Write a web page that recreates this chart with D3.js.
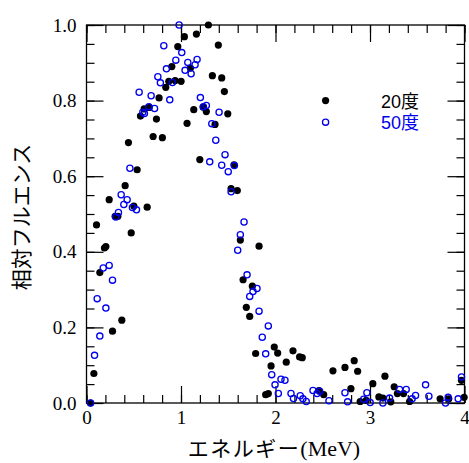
<!DOCTYPE html>
<html>
<head>
<meta charset="utf-8">
<script src="https://cdn.jsdelivr.net/npm/d3@7"></script>
<style>
  body { margin: 0; background: #fff; }
  .axis path, .axis line { stroke: #000; }
</style>
</head>
<body>
<div id="chart"></div>
<script>

// 20度 (filled black) : energy [MeV], relative fluence
var deg20X = [0.043, 0.078, 0.106, 0.141, 0.19, 0.205, 0.24, 0.275, 0.303, 0.332, 0.374, 0.409, 0.444, 0.473,
  0.501, 0.536, 0.571, 0.61, 0.642, 0.663, 0.705, 0.74, 0.768, 0.803, 0.839, 0.871, 0.903, 0.938, 0.966,
  1.001, 1.036, 1.064, 1.10, 1.135, 1.163, 1.199, 1.234, 1.268, 1.29, 1.332, 1.36, 1.395, 1.431, 1.459,
  1.495, 1.53, 1.561, 1.596, 1.628, 1.657, 1.691, 1.727, 1.755, 1.79, 1.826, 1.896, 1.924, 1.953, 1.987,
  2.023, 2.114, 2.185, 2.255, 2.283, 2.46, 2.51, 2.608, 2.735, 2.798, 2.833, 2.869, 2.896, 2.96, 3.03,
  3.094, 3.136, 3.158, 3.22, 3.256, 3.29, 3.355, 3.419, 3.742, 3.834, 3.968, 3.996];
var deg20Y = [0.0, 0.078, 0.471, 0.345, 0.41, 0.414, 0.538, 0.19, 0.494, 0.494, 0.219, 0.575, 0.689, 0.45,
  0.521, 0.617, 0.759, 0.778, 0.518, 0.782, 0.705, 0.751, 0.807, 0.702, 0.835, 0.851, 0.89, 0.853, 0.943,
  0.851, 0.969, 0.74, 0.886, 0.776, 0.976, 0.644, 0.783, 0.771, 1.0, 0.866, 0.737, 0.947, 0.86, 0.824,
  0.765, 0.567, 0.63, 0.562, 0.431, 0.326, 0.253, 0.229, 0.309, 0.131, 0.415, 0.022, 0.025, 0.098, 0.148,
  0.132, 0.108, 0.138, 0.122, 0.12, 0.033, 0.022, 0.085, 0.094, 0.038, 0.112, 0.084, 0.004, 0.007, 0.051,
  0.016, 0.013, 0.071, 0.003, 0.043, 0.025, 0.025, 0.004, 0.011, 0.011, 0.06, 0.015];

// 50度 (open blue)
var deg50X = [0.043, 0.085, 0.113, 0.141, 0.177, 0.205, 0.24, 0.275, 0.31, 0.338, 0.367, 0.395, 0.43, 0.459,
  0.486, 0.529, 0.557, 0.596, 0.613, 0.66, 0.684, 0.72, 0.755, 0.782, 0.818, 0.846, 0.881, 0.909, 0.945,
  0.98, 1.008, 1.043, 1.072, 1.107, 1.149, 1.17, 1.205, 1.237, 1.268, 1.304, 1.326, 1.368, 1.403, 1.431,
  1.466, 1.50, 1.53, 1.565, 1.60, 1.628, 1.667, 1.699, 1.727, 1.762, 1.804, 1.826, 1.86, 1.896, 1.924,
  1.96, 1.995, 2.03, 2.058, 2.1, 2.164, 2.19, 2.262, 2.29, 2.325, 2.397, 2.44, 2.467, 2.566, 2.735, 2.763,
  2.933, 2.967, 3.002, 3.136, 3.207, 3.313, 3.383, 3.446, 3.482, 3.588, 3.623, 3.799, 3.827, 3.933, 3.968];
var deg50Y = [0.0, 0.126, 0.276, 0.177, 0.357, 0.251, 0.364, 0.325, 0.492, 0.504, 0.551, 0.525, 0.538, 0.621,
  0.517, 0.511, 0.822, 0.769, 0.766, 0.784, 0.813, 0.779, 0.863, 0.847, 0.945, 0.884, 0.802, 0.848, 0.907,
  1.0, 0.927, 0.88, 0.901, 0.871, 0.895, 0.909, 0.808, 0.784, 0.787, 0.638, 0.739, 0.695, 0.769, 0.629,
  0.657, 0.612, 0.559, 0.628, 0.404, 0.445, 0.479, 0.339, 0.282, 0.295, 0.303, 0.243, 0.174, 0.13, 0.204,
  0.075, 0.048, 0.025, 0.063, 0.06, 0.025, 0.012, 0.019, 0.011, 0.004, 0.033, 0.025, 0.031, 0.006, 0.027, 0.003,
  0.01, 0.027, 0.001, 0.0, 0.013, 0.036, 0.036, 0.011, 0.02, 0.048, 0.018, 0.0, 0.015, 0.011, 0.069];

var legendLabels = ["20度", "50度"];
var legendX = [2.53, 2.53];
var legendY = [0.80, 0.743];

var xMajor = [0, 1, 2, 3, 4];
var xMinor = d3.range(0, 4.001, 0.2);
var yMajor = [0, 0.2, 0.4, 0.6, 0.8, 1.0];
var yMinor = d3.range(0, 1.001, 0.05);

var xTitle = "エネルギー";
var xUnit = "(MeV)";
var yTitle = "相対フルエンス";

var W = 469, H = 463;
var plot = {'l': 86.5, 'r': 464.5, 't': 25, 'b': 403};

var svg = d3.select("#chart").append("svg")
            .attr("width", W)
            .attr("height", H);

var XScale = d3.scaleLinear().domain([0, 4]).range([plot.l, plot.r]);
var YScale = d3.scaleLinear().domain([0, 1]).range([plot.b, plot.t]);

var plotH = plot.b - plot.t, plotW = plot.r - plot.l;

// all four sides get ticks pointing inward
function addAxis(axis, tx, ty, cls) {
  svg.append("g")
     .attr("class", "axis " + cls)
     .attr("transform", "translate(" + tx + "," + ty + ")")
     .call(axis)
     .call(function(g) { g.select(".domain").remove(); });
}

addAxis(d3.axisBottom(XScale).tickValues(xMinor).tickSize(-8).tickFormat(""), 0, plot.b, "xm");
addAxis(d3.axisTop(XScale).tickValues(xMinor).tickSize(-8).tickFormat(""), 0, plot.t, "xm");
addAxis(d3.axisLeft(YScale).tickValues(yMinor).tickSize(-8).tickFormat(""), plot.l, 0, "ym");
addAxis(d3.axisRight(YScale).tickValues(yMinor).tickSize(-8).tickFormat(""), plot.r, 0, "ym");

addAxis(d3.axisBottom(XScale).tickValues(xMajor).tickSize(-17).tickPadding(8)
          .tickFormat(d3.format("d")), 0, plot.b, "xM");
addAxis(d3.axisTop(XScale).tickValues(xMajor).tickSize(-17).tickFormat(""), 0, plot.t, "xM");
addAxis(d3.axisLeft(YScale).tickValues(yMajor).tickSize(-17).tickPadding(10)
          .tickFormat(d3.format(".1f")), plot.l, 0, "yM");
addAxis(d3.axisRight(YScale).tickValues(yMajor).tickSize(-17).tickFormat(""), plot.r, 0, "yM");

svg.selectAll(".axis line").attr("stroke-width", 1.2);
svg.selectAll(".axis")
   .attr("font-family", "Liberation Serif")
   .attr("font-size", 19);
svg.selectAll(".axis text")
   .attr("fill", "#000")
   .attr("font-family", "Liberation Serif");

// frame
svg.append("rect")
   .attr("x", plot.l).attr("y", plot.t)
   .attr("width", plotW).attr("height", plotH)
   .attr("fill", "none")
   .attr("stroke", "#000")
   .attr("stroke-width", 1.3);

var pts20 = deg20X.map(function(x, i) { return {x: x, y: deg20Y[i]}; });
var pts50 = deg50X.map(function(x, i) { return {x: x, y: deg50Y[i]}; });

svg.selectAll(".dot20")
   .data(pts20)
   .enter().append("circle")
   .attr("class", "dot20")
   .attr("cx", function(d) { return XScale(d.x); })
   .attr("cy", function(d) { return YScale(d.y); })
   .attr("r", 3.6)
   .attr("fill", "#000");

svg.selectAll(".dot50")
   .data(pts50)
   .enter().append("circle")
   .attr("class", "dot50")
   .attr("cx", function(d) { return XScale(d.x); })
   .attr("cy", function(d) { return YScale(d.y); })
   .attr("r", 3.1)
   .attr("fill", "none")
   .attr("stroke", "#0000ee")
   .attr("stroke-width", 1.3);

// legend
var legendColors = ["#000", "#0000ee"];
legendLabels.forEach(function(lab, i) {
  var c = svg.append("circle")
             .attr("cx", XScale(legendX[i]))
             .attr("cy", YScale(legendY[i]));
  if (i == 0) c.attr("r", 3.6).attr("fill", "#000");
  else c.attr("r", 3.1).attr("fill", "none").attr("stroke", "#0000ee").attr("stroke-width", 1.3);

  svg.append("text")
     .attr("x", 381)
     .attr("y", YScale(legendY[i]) + 7)
     .attr("fill", legendColors[i])
     .attr("font-family", "Liberation Sans, Arial, Noto Sans CJK JP, sans-serif")
     .attr("font-size", 18)
     .text(lab);
});

// axis titles
var xt = svg.append("text")
   .attr("x", 274)
   .attr("y", 456)
   .attr("text-anchor", "middle")
   .attr("fill", "#000");
xt.append("tspan")
  .attr("font-family", "Noto Sans CJK JP, sans-serif")
  .attr("font-size", 21)
  .attr("letter-spacing", "1.5px")
  .text(xTitle);
xt.append("tspan")
  .attr("font-family", "Liberation Serif")
  .attr("font-size", 22)
  .text(xUnit);

svg.append("text")
   .attr("transform", "translate(29,217) rotate(-90)")
   .attr("text-anchor", "middle")
   .attr("fill", "#000")
   .attr("font-family", "Noto Sans CJK JP, sans-serif")
   .attr("font-size", 21)
   .text(yTitle);

</script>
</body>
</html>
